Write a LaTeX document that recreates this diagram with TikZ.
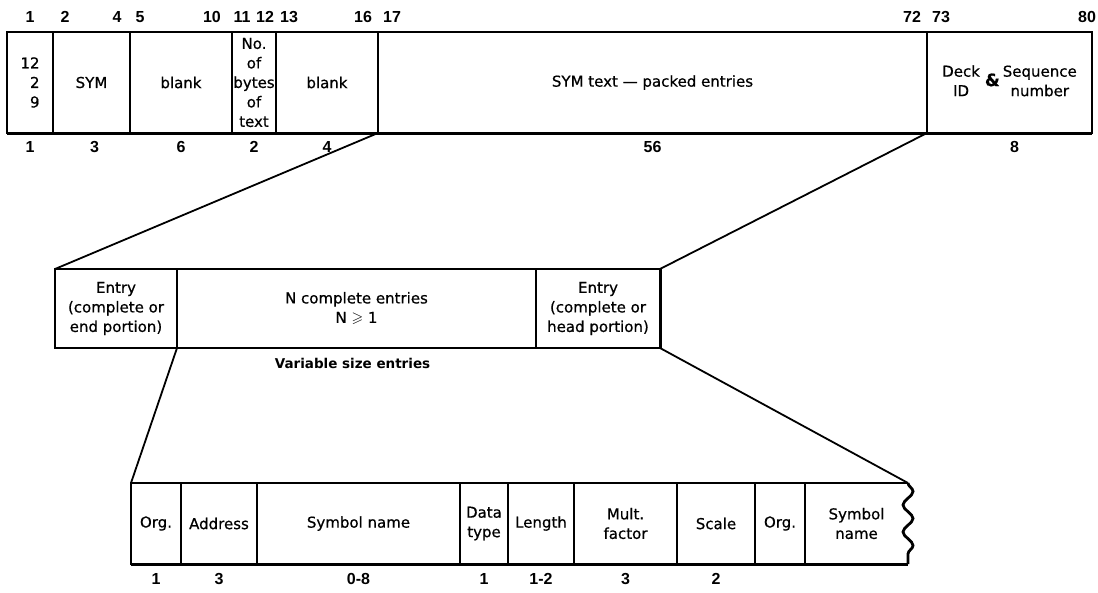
\documentclass[tikz,border=0pt]{standalone}
\usepackage{amssymb}
\usepackage{fontspec}
\setmainfont{DejaVu Sans}
\newfontfamily\numfont{Liberation Sans}
\usepackage{tikz}
\usetikzlibrary{positioning, decorations.pathmorphing}
\newcommand{\fieldfont}{\fontsize{15}{19.5}\selectfont\addfontfeature{FakeBold=0.6}}
\tikzset{
  field/.style={rectangle, draw, line width=1.7pt, inner sep=0pt, outer sep=0pt,
    minimum height=101pt, align=center, font=\fieldfont},
  midfield/.style={field, minimum height=79pt},
  lowfield/.style={field, minimum height=81pt},
  colnum/.style={inner sep=0pt, font=\numfont\bfseries\fontsize{16}{18}\selectfont},
  edge/.style={line width=3pt},
  zoomline/.style={line width=1.8pt},
  wavy/.style={line width=2.8pt, decorate,
    decoration={snake, segment length=27pt, amplitude=5pt}},
}

\begin{document}
\begin{tikzpicture}[x=1pt, y=-1pt]
\path[fill=white, use as bounding box] (0,0) rectangle (1098,592);

% ── Card record ──
\node[field, anchor=north west, minimum width=46pt, align=right] (f1) at (7,32) {12\\2\\9};
\node[field, minimum width=77pt, right=0pt of f1] (f2) {SYM};
\node[field, minimum width=102pt, right=0pt of f2] (f3) {blank};
\node[field, minimum width=44pt, right=0pt of f3] (f4) {No.\\of\\bytes\\of\\text};
\node[field, minimum width=102pt, right=0pt of f4] (f5) {blank};
\node[field, minimum width=549pt, right=0pt of f5] (f6) {SYM text --- packed entries};
\node[field, minimum width=165pt, right=0pt of f6] (f7)
  {\begin{tabular}{@{}c@{}}Deck\\ID\end{tabular}\hspace{5pt}{\fontsize{17}{19}\selectfont\textbf{\&}}\hspace{3pt}%
   \begin{tabular}{@{}c@{}}Sequence\\number\end{tabular}};
\draw[edge] (f1.south west) -- (f7.south east);

% ── Column numbers ──
\node[colnum] (c1) at (30,17) {1};
\node[colnum] (c2) at (65,17) {2};
\node[colnum] (c4) at (117,17) {4};
\node[colnum] (c5) at (140,17) {5};
\node[colnum] (c10) at (212,17) {10};
\node[colnum] (c11) at (242,17) {11};
\node[colnum] (c12) at (265,17) {12};
\node[colnum] (c13) at (289,17) {13};
\node[colnum] (c16) at (363,17) {16};
\node[colnum] (c17) at (392,17) {17};
\node[colnum] (c72) at (912,17) {72};
\node[colnum] (c73) at (941,17) {73};
\node[colnum] (c80) at (1087,17) {80};

% ── Field lengths ──
\node[colnum, below=8pt of f1] (l1) {1};
\node[colnum, below=8pt of f2, xshift=3pt] (l2) {3};
\node[colnum, below=8pt of f3] (l3) {6};
\node[colnum, below=8pt of f4] (l4) {2};
\node[colnum, below=8pt of f5] (l5) {4};
\node[colnum, below=8pt of f6] (l6) {56};
\node[colnum, below=8pt of f7, xshift=5pt] (l7) {8};

% ── Packed entries ──
\node[midfield, anchor=north west, minimum width=122pt] (m1) at (55,269)
  {Entry\\(complete or\\end portion)};
\node[midfield, minimum width=359pt, right=0pt of m1] (m2)
  {N complete entries\\N $\geqslant$ 1};
\node[midfield, minimum width=124pt, right=0pt of m2] (m3)
  {Entry\\(complete or\\head portion)};
\node[below=10pt of m2, xshift=-4pt, inner sep=0pt,
  font=\bfseries\fontsize{13.5}{15}\selectfont] (varsize) {Variable size entries};
\draw[edge] (m3.north east) -- (m3.south east);
\draw[line width=2.4pt] (m1.south west) -- (m3.south east);

% ── One entry ──
\node[lowfield, anchor=north west, minimum width=50pt] (b1) at (131,483) {Org.};
\node[lowfield, minimum width=76pt, right=0pt of b1] (b2) {Address};
\node[lowfield, minimum width=203pt, right=0pt of b2] (b3) {Symbol name};
\node[lowfield, minimum width=48pt, right=0pt of b3] (b4) {Data\\type};
\node[lowfield, minimum width=66pt, right=0pt of b4] (b5) {Length};
\node[lowfield, minimum width=103pt, right=0pt of b5] (b6) {Mult.\\factor};
\node[lowfield, minimum width=78pt, right=0pt of b6] (b7) {Scale};
\node[lowfield, minimum width=50pt, right=0pt of b7] (b8) {Org.};
\node[lowfield, draw=none, minimum width=103pt, right=0pt of b8] (b9) {Symbol\\name};
\draw[line width=1.7pt] (b9.north west) -- (b9.north east);
\draw[wavy] (b9.north east) -- (b9.south east);
\draw[edge] (b1.south west) -- (b9.south east);

\node[colnum, below=9pt of b1] (e1) {1};
\node[colnum, below=9pt of b2] (e2) {3};
\node[colnum, below=9pt of b3] (e3) {0-8};
\node[colnum, below=9pt of b4] (e4) {1};
\node[colnum, below=9pt of b5] (e5) {1-2};
\node[colnum, below=9pt of b6] (e6) {3};
\node[colnum, below=9pt of b7] (e7) {2};

% ── Expansion lines ──
\draw[zoomline] (f5.south east) -- (m1.north west);
\draw[zoomline] (f6.south east) -- (m3.north east);
\draw[zoomline] (m1.south east) -- (b1.north west);
\draw[zoomline] (m3.south east) -- (b9.north east);

\end{tikzpicture}
\end{document}
